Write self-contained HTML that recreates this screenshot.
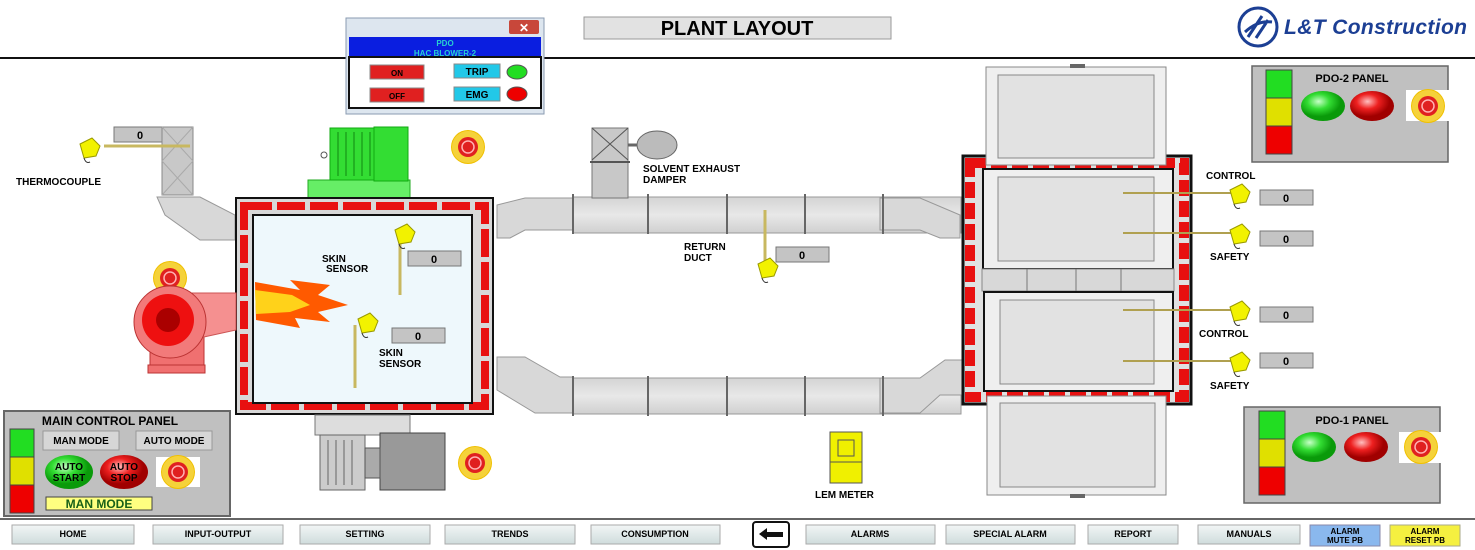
<!DOCTYPE html>
<html><head><meta charset="utf-8"><style>
body{margin:0;width:1475px;height:550px;overflow:hidden;background:#fff;font-family:"Liberation Sans",sans-serif}
svg{position:absolute;left:0;top:0}
text{font-family:"Liberation Sans",sans-serif;font-weight:bold}
</style></head><body>
<svg width="1475" height="550" viewBox="0 0 1475 550">
<defs>
<linearGradient id="duct" x1="0" y1="0" x2="0" y2="1"><stop offset="0" stop-color="#d4d4d4"/><stop offset=".5" stop-color="#e8e8e8"/><stop offset="1" stop-color="#d0d0d0"/></linearGradient>
<radialGradient id="gb" cx=".4" cy=".35"><stop offset="0" stop-color="#c8ffc8"/><stop offset=".5" stop-color="#33dd33"/><stop offset="1" stop-color="#0a9a0a"/></radialGradient>
<radialGradient id="rb" cx=".4" cy=".35"><stop offset="0" stop-color="#ffc0c0"/><stop offset=".5" stop-color="#ee2020"/><stop offset="1" stop-color="#a00000"/></radialGradient>
<linearGradient id="btn" x1="0" y1="0" x2="0" y2="1"><stop offset="0" stop-color="#f2f6f6"/><stop offset="1" stop-color="#cfdcdc"/></linearGradient>
<g id="es"><circle r="17" fill="#f0c000"/><circle r="16" fill="#f5d23a"/><circle r="10" fill="#e02020"/><circle r="6" fill="none" stroke="#ffb0b0" stroke-width="1.5"/></g>
<g id="tc"><path d="M-10,-6 L2,-12 L10,-4 L6,6 L-6,8 Z" fill="#f2f200" stroke="#9a9a00"/><path d="M-6,8 q2,6 6,4" stroke="#333" fill="none"/></g>
<g id="disp"><rect width="53" height="15" fill="#c4c4c4" stroke="#777"/><text x="26" y="12" font-size="11" text-anchor="middle">0</text></g>
</defs>

<!-- header -->
<line x1="0" y1="58" x2="1475" y2="58" stroke="#111" stroke-width="2"/>
<rect x="584" y="17" width="307" height="22" fill="#e2e2e2" stroke="#999"/>
<text x="737" y="35" font-size="20" text-anchor="middle">PLANT LAYOUT</text>
<circle cx="1258" cy="27" r="19" fill="none" stroke="#1c3f94" stroke-width="3"/>
<path d="M1245,32 Q1258,20 1272,22 M1248,37 L1262,16 M1256,38 L1268,20" stroke="#1c3f94" stroke-width="3" fill="none"/>
<text x="1284" y="34" font-size="21" font-style="italic" fill="#1c3f94" textLength="183">L&amp;T Construction</text>

<!-- popup -->
<rect x="346" y="18" width="198" height="96" fill="#dde6ef" stroke="#8a9bb0"/>
<rect x="509" y="20" width="30" height="14" fill="#c8473a" rx="2"/>
<text x="524" y="32" font-size="12" fill="#fff" text-anchor="middle">✕</text>
<rect x="349" y="37" width="192" height="20" fill="#0a1ee0"/>
<text x="445" y="46" font-size="8" fill="#28d0d0" text-anchor="middle">PDO</text>
<text x="445" y="56" font-size="8" fill="#28d0d0" text-anchor="middle">HAC BLOWER-2</text>
<rect x="349" y="57" width="192" height="51" fill="#fff" stroke="#111" stroke-width="2"/>
<rect x="370" y="65" width="54" height="14" fill="#e02020" stroke="#888"/><text x="397" y="76" font-size="8" text-anchor="middle">ON</text>
<rect x="370" y="88" width="54" height="14" fill="#e02020" stroke="#888"/><text x="397" y="99" font-size="8" text-anchor="middle">OFF</text>
<rect x="454" y="64" width="46" height="14" fill="#22c8e8" stroke="#888"/><text x="477" y="75" font-size="10" text-anchor="middle">TRIP</text>
<rect x="454" y="87" width="46" height="14" fill="#22c8e8" stroke="#888"/><text x="477" y="98" font-size="10" text-anchor="middle">EMG</text>
<ellipse cx="517" cy="72" rx="10" ry="7" fill="#22dd22" stroke="#555"/>
<ellipse cx="517" cy="94" rx="10" ry="7" fill="#ee0000" stroke="#555"/>

<!-- thermocouple left -->
<use href="#disp" x="114" y="127"/>
<text x="16" y="185" font-size="10">THERMOCOUPLE</text>
<rect x="162" y="127" width="31" height="68" fill="#c8c8c8" stroke="#888"/>
<path d="M162,127 L193,161 M193,127 L162,161 M162,161 L193,195 M193,161 L162,195" stroke="#aaa"/>
<line x1="104" y1="146" x2="190" y2="146" stroke="#c8b860" stroke-width="3"/>
<use href="#tc" x="90" y="150"/>
<path d="M157,197 L200,197 L235,215 L235,240 L200,240 L165,215 Z" fill="#d8d8d8" stroke="#999"/>

<!-- ducts -->
<path d="M497,205 L525,198 L573,198 L573,230 L525,230 L510,238 L497,238 Z" fill="#d8d8d8" stroke="#999"/>
<rect x="573" y="197" width="388" height="36" fill="url(#duct)" stroke="#999"/>
<path d="M880,198 L920,198 L960,215 L960,238 L940,238 L920,230 L880,230 Z" fill="#d8d8d8" stroke="#999"/>
<path d="M497,357 L525,357 L560,377 L573,377 L573,413 L535,413 L497,390 Z" fill="#d8d8d8" stroke="#999"/>
<rect x="573" y="378" width="388" height="36" fill="url(#duct)" stroke="#999"/>
<path d="M880,378 L920,378 L945,360 L962,360 L962,395 L940,395 L920,413 L880,413 Z" fill="#d8d8d8" stroke="#999"/>
<g stroke="#666" stroke-width="2">
<line x1="573" y1="194" x2="573" y2="234"/><line x1="648" y1="194" x2="648" y2="234"/><line x1="727" y1="194" x2="727" y2="234"/><line x1="805" y1="194" x2="805" y2="234"/><line x1="883" y1="194" x2="883" y2="234"/>
<line x1="573" y1="376" x2="573" y2="416"/><line x1="648" y1="376" x2="648" y2="416"/><line x1="727" y1="376" x2="727" y2="416"/><line x1="805" y1="376" x2="805" y2="416"/><line x1="883" y1="376" x2="883" y2="416"/>
</g>
<!-- damper -->
<rect x="592" y="128" width="36" height="70" fill="#c8c8c8" stroke="#777"/>
<path d="M592,128 L628,160 M628,128 L592,160" stroke="#555"/>
<line x1="590" y1="162" x2="630" y2="162" stroke="#555" stroke-width="2"/>
<ellipse cx="657" cy="145" rx="20" ry="14" fill="#bbb" stroke="#666"/>
<line x1="628" y1="145" x2="637" y2="145" stroke="#666" stroke-width="3"/>
<text x="643" y="172" font-size="10">SOLVENT EXHAUST</text>
<text x="643" y="183" font-size="10">DAMPER</text>
<text x="684" y="250" font-size="10">RETURN</text>
<text x="684" y="261" font-size="10">DUCT</text>
<line x1="765" y1="210" x2="765" y2="262" stroke="#c8b860" stroke-width="3"/>
<use href="#tc" x="768" y="270"/>
<use href="#disp" x="776" y="247"/>

<!-- green motor -->
<rect x="308" y="180" width="102" height="18" fill="#66ee66" stroke="#2a2"/>
<rect x="330" y="128" width="55" height="52" fill="#33dd33" stroke="#1a1"/>
<g stroke="#118811"><line x1="338" y1="132" x2="338" y2="176"/><line x1="346" y1="132" x2="346" y2="176"/><line x1="354" y1="132" x2="354" y2="176"/><line x1="362" y1="132" x2="362" y2="176"/><line x1="370" y1="132" x2="370" y2="176"/></g>
<rect x="374" y="127" width="34" height="54" fill="#33dd33" stroke="#1a1"/>
<circle cx="324" cy="155" r="3" fill="none" stroke="#555"/>
<use href="#es" x="468" y="147"/>

<!-- left oven -->
<rect x="236" y="198" width="257" height="216" fill="#d8d8d8" stroke="#111" stroke-width="2"/>
<rect x="244" y="206" width="241" height="200" fill="none" stroke="#e81010" stroke-width="8" stroke-dasharray="28,5"/>
<rect x="253" y="215" width="219" height="188" fill="#eef8fc" stroke="#111" stroke-width="2"/>
<path d="M255,282 L300,290 L290,280 L330,285 L318,295 L348,305 L318,312 L330,322 L295,318 L300,328 L256,320 Z" fill="#ff5a00"/>
<path d="M255,290 L292,295 L310,305 L290,312 L256,314 Z" fill="#ffd21a"/>
<text x="322" y="262" font-size="10">SKIN</text><text x="326" y="272" font-size="10">SENSOR</text>
<line x1="400" y1="235" x2="400" y2="295" stroke="#c8b860" stroke-width="3"/>
<use href="#tc" x="405" y="236"/>
<use href="#disp" x="408" y="251"/>
<line x1="355" y1="325" x2="355" y2="388" stroke="#c8b860" stroke-width="3"/>
<use href="#tc" x="368" y="325"/>
<use href="#disp" x="392" y="328"/>
<text x="379" y="356" font-size="10">SKIN</text><text x="379" y="367" font-size="10">SENSOR</text>

<!-- burner -->
<use href="#es" x="170" y="278"/>
<rect x="150" y="320" width="54" height="45" fill="#f07070" stroke="#b33"/>
<rect x="148" y="365" width="57" height="8" fill="#f07070" stroke="#b33"/>
<path d="M170,293 L236,293 L236,330 L190,340 Z" fill="#f59090" stroke="#c55"/>
<circle cx="170" cy="322" r="36" fill="#f27a7a" stroke="#b33"/>
<circle cx="168" cy="320" r="26" fill="#ee1010"/>
<circle cx="168" cy="320" r="12" fill="#aa0000"/>

<!-- bottom motor -->
<rect x="315" y="415" width="95" height="20" fill="#ddd" stroke="#777"/>
<rect x="320" y="435" width="45" height="55" fill="#ccc" stroke="#666"/>
<g stroke="#666"><line x1="328" y1="440" x2="328" y2="485"/><line x1="336" y1="440" x2="336" y2="485"/><line x1="344" y1="440" x2="344" y2="485"/><line x1="352" y1="440" x2="352" y2="485"/></g>
<rect x="380" y="433" width="65" height="57" fill="#999" stroke="#444"/>
<rect x="365" y="448" width="15" height="30" fill="#aaa" stroke="#555"/>
<use href="#es" x="475" y="463"/>

<!-- main control panel -->
<rect x="4" y="411" width="226" height="105" fill="#c0c0c0" stroke="#666" stroke-width="2"/>
<text x="110" y="425" font-size="12" text-anchor="middle">MAIN CONTROL PANEL</text>
<rect x="10" y="429" width="24" height="28" fill="#22dd22" stroke="#444"/>
<rect x="10" y="457" width="24" height="28" fill="#e0e000" stroke="#444"/>
<rect x="10" y="485" width="24" height="28" fill="#ee0000" stroke="#444"/>
<rect x="43" y="431" width="76" height="19" fill="#d6d6d6" stroke="#999"/><text x="81" y="444" font-size="10" text-anchor="middle">MAN MODE</text>
<rect x="136" y="431" width="76" height="19" fill="#d6d6d6" stroke="#999"/><text x="174" y="444" font-size="10" text-anchor="middle">AUTO MODE</text>
<ellipse cx="69" cy="472" rx="24" ry="17" fill="url(#gb)"/><text x="69" y="470" font-size="10" text-anchor="middle" font-weight="normal">AUTO</text><text x="69" y="481" font-size="10" text-anchor="middle" font-weight="normal">START</text>
<ellipse cx="124" cy="472" rx="24" ry="17" fill="url(#rb)"/><text x="124" y="470" font-size="10" text-anchor="middle" font-weight="normal">AUTO</text><text x="124" y="481" font-size="10" text-anchor="middle" font-weight="normal">STOP</text>
<rect x="156" y="457" width="44" height="30" fill="#fff"/><use href="#es" x="178" y="472"/>
<rect x="46" y="497" width="106" height="13" fill="#ffff80" stroke="#444"/><text x="99" y="508" font-size="12" text-anchor="middle" fill="#186018">MAN MODE</text>

<!-- right oven -->
<rect x="963" y="156" width="228" height="248" fill="#e0e0e0" stroke="#111" stroke-width="3"/>
<rect x="970" y="163" width="214" height="234" fill="none" stroke="#e81010" stroke-width="10" stroke-dasharray="16,5"/>
<rect x="986" y="67" width="180" height="98" fill="#efefef" stroke="#888"/><rect x="998" y="75" width="156" height="83" fill="#e2e2e2" stroke="#888"/>
<rect x="983" y="169" width="190" height="100" fill="#efefef" stroke="#111" stroke-width="2"/><rect x="998" y="177" width="156" height="84" fill="#e2e2e2" stroke="#888"/>
<rect x="982" y="269" width="192" height="22" fill="#d8d8d8" stroke="#888"/>
<g stroke="#777"><line x1="1027" y1="269" x2="1027" y2="291"/><line x1="1076" y1="269" x2="1076" y2="291"/><line x1="1121" y1="269" x2="1121" y2="291"/></g>
<rect x="984" y="292" width="189" height="99" fill="#efefef" stroke="#111" stroke-width="2"/><rect x="1000" y="300" width="154" height="84" fill="#e2e2e2" stroke="#888"/>
<rect x="987" y="396" width="179" height="99" fill="#efefef" stroke="#888"/><rect x="1000" y="403" width="155" height="84" fill="#e2e2e2" stroke="#888"/>
<rect x="1070" y="64" width="15" height="4" fill="#666"/><rect x="1070" y="494" width="15" height="4" fill="#666"/>
<g stroke="#b0a050" stroke-width="2"><line x1="1123" y1="193" x2="1232" y2="193"/><line x1="1123" y1="233" x2="1232" y2="233"/><line x1="1123" y1="310" x2="1232" y2="310"/><line x1="1123" y1="361" x2="1232" y2="361"/></g>
<use href="#tc" x="1240" y="196"/><use href="#tc" x="1240" y="236"/><use href="#tc" x="1240" y="313"/><use href="#tc" x="1240" y="364"/>
<use href="#disp" x="1260" y="190"/><use href="#disp" x="1260" y="231"/><use href="#disp" x="1260" y="307"/><use href="#disp" x="1260" y="353"/>
<text x="1206" y="179" font-size="10">CONTROL</text><text x="1210" y="260" font-size="10">SAFETY</text>
<text x="1199" y="337" font-size="10">CONTROL</text><text x="1210" y="389" font-size="10">SAFETY</text>

<!-- PDO panels -->
<rect x="1252" y="66" width="196" height="96" fill="#c0c0c0" stroke="#666" stroke-width="1.5"/>
<rect x="1266" y="70" width="26" height="28" fill="#22dd22" stroke="#444"/><rect x="1266" y="98" width="26" height="28" fill="#e0e000" stroke="#444"/><rect x="1266" y="126" width="26" height="28" fill="#ee0000" stroke="#444"/>
<text x="1352" y="82" font-size="11" text-anchor="middle">PDO-2 PANEL</text>
<ellipse cx="1323" cy="106" rx="22" ry="15" fill="url(#gb)"/><ellipse cx="1372" cy="106" rx="22" ry="15" fill="url(#rb)"/>
<rect x="1406" y="90" width="45" height="31" fill="#fff"/><use href="#es" x="1428" y="106"/>
<rect x="1244" y="407" width="196" height="96" fill="#c0c0c0" stroke="#666" stroke-width="1.5"/>
<rect x="1259" y="411" width="26" height="28" fill="#22dd22" stroke="#444"/><rect x="1259" y="439" width="26" height="28" fill="#e0e000" stroke="#444"/><rect x="1259" y="467" width="26" height="28" fill="#ee0000" stroke="#444"/>
<text x="1352" y="424" font-size="11" text-anchor="middle">PDO-1 PANEL</text>
<ellipse cx="1314" cy="447" rx="22" ry="15" fill="url(#gb)"/><ellipse cx="1366" cy="447" rx="22" ry="15" fill="url(#rb)"/>
<rect x="1399" y="432" width="45" height="31" fill="#fff"/><use href="#es" x="1421" y="447"/>

<!-- LEM meter -->
<rect x="830" y="432" width="32" height="51" fill="#f0f000" stroke="#555"/>
<rect x="838" y="440" width="16" height="16" fill="none" stroke="#555"/>
<line x1="830" y1="462" x2="862" y2="462" stroke="#555"/>
<text x="815" y="498" font-size="10">LEM METER</text>

<!-- footer -->
<line x1="0" y1="519" x2="1475" y2="519" stroke="#666" stroke-width="2"/>
<rect x="12" y="525" width="122" height="19" fill="url(#btn)" stroke="#aaa"/><text x="73" y="537" font-size="9" text-anchor="middle">HOME</text>
<rect x="153" y="525" width="130" height="19" fill="url(#btn)" stroke="#aaa"/><text x="218" y="537" font-size="9" text-anchor="middle">INPUT-OUTPUT</text>
<rect x="300" y="525" width="130" height="19" fill="url(#btn)" stroke="#aaa"/><text x="365" y="537" font-size="9" text-anchor="middle">SETTING</text>
<rect x="445" y="525" width="130" height="19" fill="url(#btn)" stroke="#aaa"/><text x="510" y="537" font-size="9" text-anchor="middle">TRENDS</text>
<rect x="591" y="525" width="129" height="19" fill="url(#btn)" stroke="#aaa"/><text x="655" y="537" font-size="9" text-anchor="middle">CONSUMPTION</text>
<rect x="753" y="522" width="36" height="25" fill="#fff" stroke="#111" stroke-width="2" rx="3"/>
<path d="M759,534 L767,528 L767,532 L783,532 L783,537 L767,537 L767,540 Z" fill="#111"/>
<rect x="806" y="525" width="129" height="19" fill="url(#btn)" stroke="#aaa"/><text x="870" y="537" font-size="9" text-anchor="middle">ALARMS</text>
<rect x="946" y="525" width="129" height="19" fill="url(#btn)" stroke="#aaa"/><text x="1010" y="537" font-size="9" text-anchor="middle">SPECIAL ALARM</text>
<rect x="1088" y="525" width="90" height="19" fill="url(#btn)" stroke="#aaa"/><text x="1133" y="537" font-size="9" text-anchor="middle">REPORT</text>
<rect x="1198" y="525" width="102" height="19" fill="url(#btn)" stroke="#aaa"/><text x="1249" y="537" font-size="9" text-anchor="middle">MANUALS</text>
<rect x="1310" y="525" width="70" height="21" fill="#8ab8ee" stroke="#88a"/><text x="1345" y="534" font-size="8" text-anchor="middle">ALARM</text><text x="1345" y="543" font-size="8" text-anchor="middle">MUTE PB</text>
<rect x="1390" y="525" width="70" height="21" fill="#f5f040" stroke="#aa8"/><text x="1425" y="534" font-size="8" text-anchor="middle">ALARM</text><text x="1425" y="543" font-size="8" text-anchor="middle">RESET PB</text>
</svg>
</body></html>
